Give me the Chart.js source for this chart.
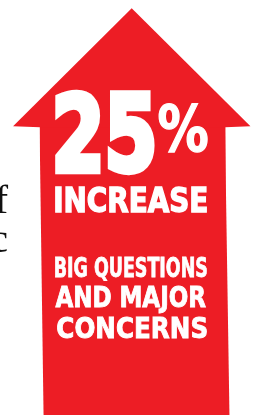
<!DOCTYPE html>
<html>
<head>
<meta charset="utf-8">
<script src="https://cdn.jsdelivr.net/npm/chart.js@4/dist/chart.umd.min.js"></script>
<style>
  html, body { margin: 0; padding: 0; background: #ffffff; overflow: hidden; }
  #wrap { position: relative; width: 260px; height: 415px; }
</style>
</head>
<body>
<div id="wrap"><canvas id="c" width="260" height="415"></canvas></div>
<script>
// ---- data ----
const categories = ["Increase"];
const increaseValues = [25];
const headline = "25";
const headlineUnit = "%";
const captionLines = ["INCREASE"];
const subLines = ["BIG QUESTIONS", "AND MAJOR", "CONCERNS"];
const sideFragments = ["f", "c"];

const RED = "#ED1D25";

function fitText(ctx, text, left, top, width, height, font, useCap, weight) {
  ctx.save();
  ctx.font = font;
  ctx.textAlign = "left";
  ctx.textBaseline = "alphabetic";
  const m = ctx.measureText(text);
  const w = m.actualBoundingBoxLeft + m.actualBoundingBoxRight + weight;
  let asc = m.actualBoundingBoxAscent, h;
  if (useCap) {
    const mh = ctx.measureText("H");
    asc = mh.actualBoundingBoxAscent;
    h = asc + weight;
  } else {
    h = m.actualBoundingBoxAscent + m.actualBoundingBoxDescent + weight;
  }
  const sx = width / w, sy = height / h;
  ctx.translate(left + (m.actualBoundingBoxLeft + weight / 2) * sx, top + (asc + weight / 2) * sy);
  ctx.scale(sx, sy);
  ctx.fillText(text, 0, 0);
  if (weight > 0) {
    ctx.lineWidth = weight;
    ctx.lineJoin = "miter";
    ctx.strokeStyle = ctx.fillStyle;
    ctx.strokeText(text, 0, 0);
  }
  ctx.restore();
}

const arrowPlugin = {
  id: "arrowPlugin",
  afterDatasetsDraw(chart) {
    const ctx = chart.ctx;
    const bar = chart.getDatasetMeta(0).data[0];
    const x = bar.x, y = bar.y, base = bar.base, w = bar.width;
    const half = w / 2;
    const skew = 4;
    ctx.save();
    // slight skew of the shaft
    ctx.fillStyle = "#ffffff";
    ctx.beginPath();
    ctx.moveTo(x - half, y); ctx.lineTo(x - half + skew, base); ctx.lineTo(x - half - 1, base); ctx.lineTo(x - half - 1, y);
    ctx.closePath(); ctx.fill();
    ctx.fillStyle = RED;
    ctx.beginPath();
    ctx.moveTo(x + half - 0.5, y); ctx.lineTo(x + half + skew, base); ctx.lineTo(x + half - 0.5, base);
    ctx.closePath(); ctx.fill();
    // arrow head
    ctx.beginPath();
    ctx.moveTo(x - half + 0.5, y + 0.5);
    ctx.lineTo(x - half - 26.5, y - 0.5);
    ctx.lineTo(x - 0.8, y - 118.5);
    ctx.lineTo(x + half + 25, y - 0.5);
    ctx.lineTo(x + half - 0.5, y + 0.5);
    ctx.closePath(); ctx.fill();

    // texts
    ctx.fillStyle = "#ffffff";
    const F = 'bold 100px "DejaVu Sans Condensed", "DejaVu Sans", sans-serif';
    fitText(ctx, headline, 55, 90, 100, 85, F, false, 6);
    fitText(ctx, headlineUnit, 158, 102, 50, 50, F, false, 2);
    fitText(ctx, captionLines[0], 55, 187, 152, 26, F, true, 4);
    fitText(ctx, subLines[0], 55, 257, 152, 20, F, true, 3);
    fitText(ctx, subLines[1], 55, 285, 151, 22, F, true, 3);
    fitText(ctx, subLines[2], 57, 316, 150, 22, F, true, 3);

    // fragments of body text on the left edge
    ctx.fillStyle = "#111111";
    ctx.font = '40px "Liberation Serif", serif';
    ctx.textAlign = "right";
    ctx.textBaseline = "alphabetic";
    ctx.fillText(sideFragments[0], 8, 213);
    ctx.fillText(sideFragments[1], 8, 252);
    ctx.restore();
  }
};

new Chart(document.getElementById("c"), {
  type: "bar",
  data: {
    labels: categories,
    datasets: [{
      data: increaseValues,
      backgroundColor: RED,
      borderWidth: 0,
      barPercentage: 0.729,
      categoryPercentage: 1.0
    }]
  },
  options: {
    responsive: false,
    devicePixelRatio: 1,
    animation: false,
    layout: { padding: { left: 5, right: 0, top: 0, bottom: 0 } },
    plugins: { legend: { display: false }, tooltip: { enabled: false } },
    scales: {
      x: { display: false, offset: true },
      y: { display: false, min: 0, max: 36 }
    }
  },
  plugins: [arrowPlugin]
});
</script>
</body>
</html>
